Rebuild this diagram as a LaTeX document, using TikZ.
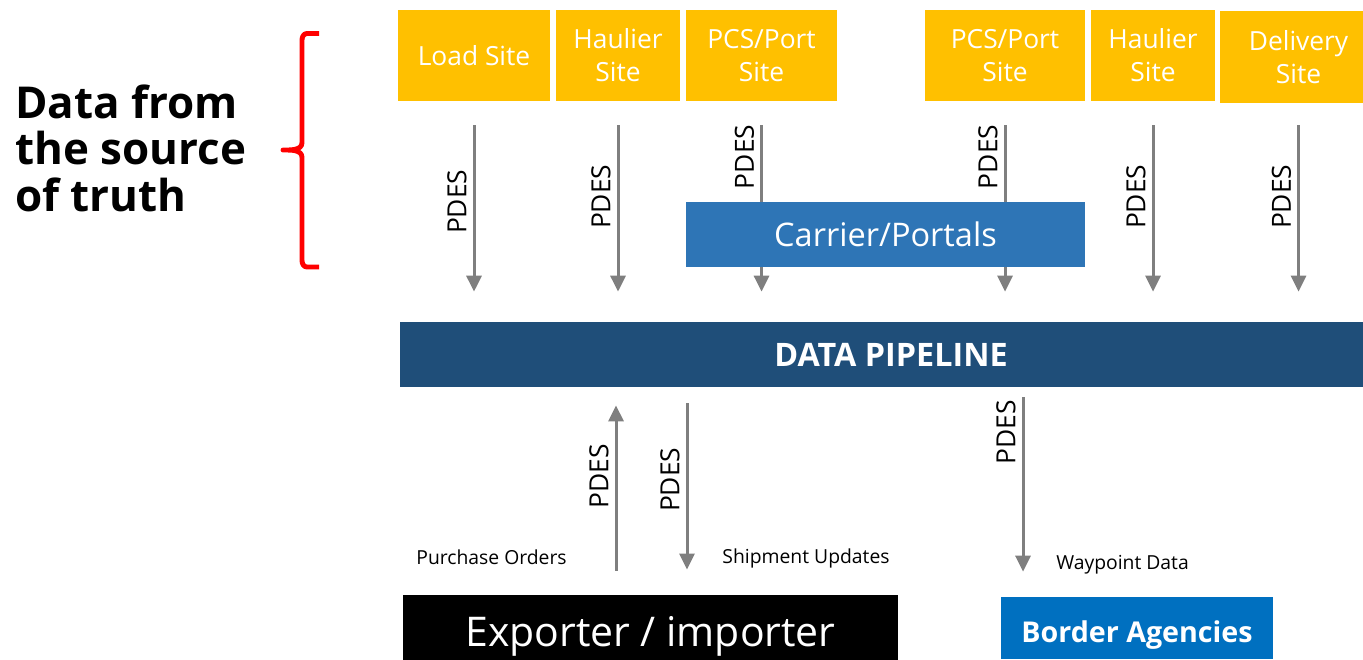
\documentclass[tikz,border=0pt]{standalone}
\usepackage{fontspec}
\setmainfont{Open Sans}
\usetikzlibrary{arrows.meta}

\definecolor{siteyellow}{HTML}{FFC000}
\definecolor{carrierblue}{HTML}{2E75B6}
\definecolor{pipeblue}{HTML}{1F4E79}
\definecolor{borderblue}{HTML}{0070C0}
\definecolor{flowgray}{HTML}{7F7F7F}

\tikzset{
  site/.style={rectangle, fill=siteyellow, text=white, align=center, minimum height=1.82cm, inner sep=0pt, font=\fontsize{15}{18.8}\selectfont},
  flow/.style={draw=flowgray, line width=1.7pt, -{Triangle[width=0.3cm,length=0.32cm]}},
  pdes/.style={rotate=90, anchor=south, font=\fontsize{15}{18}\selectfont},
  note/.style={font=\fontsize{11}{13}\selectfont},
}

\begin{document}
\begin{tikzpicture}
\useasboundingbox (0,0) rectangle (27.26,-13.18);

% source of truth
\node[anchor=west, align=left, inner sep=0pt, font=\bfseries\fontsize{25}{26.5}\selectfont] (truth) at (0.30,-2.96) {Data from\\the source\\of truth};
\draw[red, line width=2.8pt, line join=round] (6.38,-0.67) -- (6.14,-0.67) to[out=180,in=90] (6.04,-0.80) -- (6.04,-2.85) to[out=-90,in=0] (5.66,-3.0) to[out=0,in=90] (6.04,-3.15) -- (6.04,-5.21) to[out=-90,in=180] (6.14,-5.34) -- (6.38,-5.34);

% sites
\node[site, minimum width=3.04cm] (load) at (9.48,-1.11) {Load Site};
\node[site, minimum width=2.48cm] (haulA) at (12.36,-1.11) {Haulier\\Site};
\node[site, minimum width=3.02cm] (portA) at (15.23,-1.11) {PCS/Port\\Site};
\node[site, minimum width=3.20cm] (portB) at (20.10,-1.11) {PCS/Port\\Site};
\node[site, minimum width=2.48cm] (haulB) at (23.06,-1.11) {Haulier\\Site};
\node[site, minimum width=3.14cm, minimum height=1.84cm] (deliv) at (25.97,-1.14) {Delivery\\Site};

\node[rectangle, fill=pipeblue, text=white, minimum width=19.64cm, minimum height=1.30cm, font=\bfseries\fontsize{18.4}{22}\selectfont] (pipe) at (17.82,-7.09) {DATA PIPELINE};

% site feeds
\foreach \s/\p in {load/0.46, haulA/0.43, portA/0.19, portB/0.19, haulB/0.43}
  \draw[flow] ([yshift=-0.48cm]\s.south) -- ([yshift=0.6cm]pipe.north -| \s) node[pos=\p, pdes] {PDES};
\draw[flow] ([yshift=-0.44cm]deliv.south) -- ([yshift=0.6cm]pipe.north -| deliv) node[pos=0.43, pdes] {PDES};

\node[rectangle, fill=carrierblue, text=white, minimum width=7.98cm, minimum height=1.30cm, font=\fontsize{18.5}{22}\selectfont] (carrier) at (17.71,-4.69) {Carrier/Portals};

% consumers
\node[rectangle, fill=black, text=white, minimum width=9.90cm, minimum height=1.24cm, text height=26pt, text depth=5pt, font=\fontsize{23.3}{28}\selectfont] (exp) at (13.01,-12.56) {Exporter / importer};
\node[rectangle, fill=borderblue, text=white, minimum width=5.44cm, minimum height=1.24cm, text height=20pt, text depth=4pt, font=\bfseries\fontsize{16.3}{20}\selectfont] (border) at (22.74,-12.56) {Border Agencies};

\coordinate (po) at ([xshift=-0.69cm,yshift=0.48cm]exp.north);
\coordinate (su) at ([xshift=0.73cm,yshift=0.50cm]exp.north);
\coordinate (wp) at ([xshift=-2.28cm,yshift=0.50cm]border.north);

\draw[flow] (po) -- ([yshift=-0.36cm]po |- pipe.south) node[pos=0.57, pdes] {PDES};
\draw[flow] ([yshift=-0.32cm]su |- pipe.south) -- (su) node[pos=0.46, pdes] {PDES};
\draw[flow] ([yshift=-0.2cm]wp |- pipe.south) -- (wp) node[pos=0.2, pdes] {PDES};

\node[note] (orders) at (9.83,-11.15) {Purchase Orders};
\node[note] (updates) at (16.12,-11.17) {Shipment Updates};
\node[note] (waypoint) at (22.45,-11.29) {Waypoint Data};
\end{tikzpicture}
\end{document}
